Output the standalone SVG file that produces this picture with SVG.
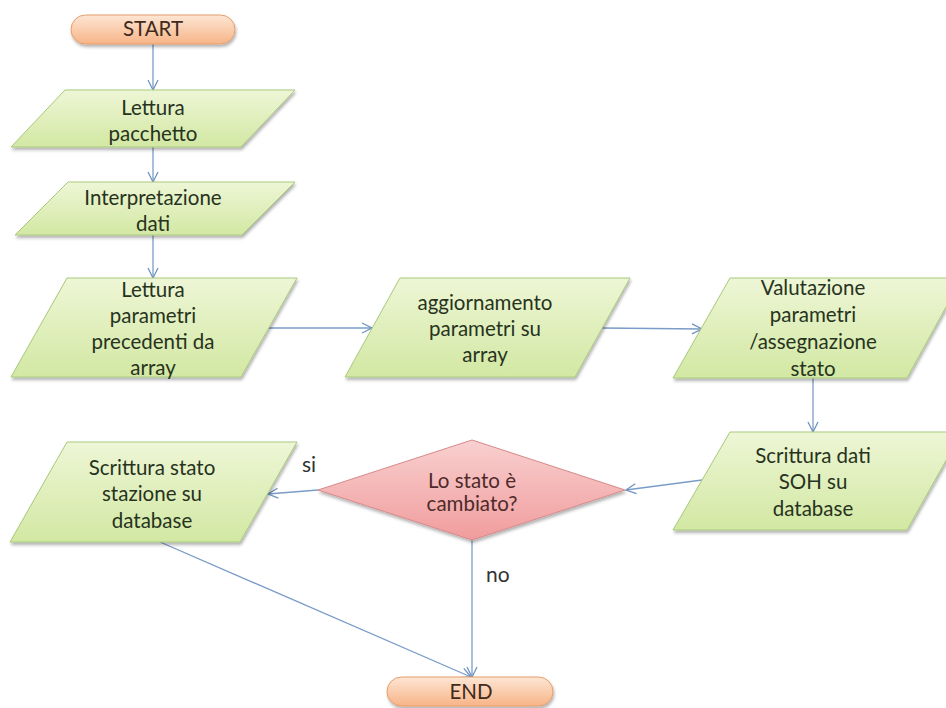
<svg xmlns="http://www.w3.org/2000/svg" width="946" height="708" viewBox="0 0 946 708">
<defs>
  <linearGradient id="gGreen" x1="0" y1="0" x2="0" y2="1">
    <stop offset="0" stop-color="#eef6d6"/>
    <stop offset="1" stop-color="#d2e8a3"/>
  </linearGradient>
  <linearGradient id="gOrange" x1="0" y1="0" x2="0" y2="1">
    <stop offset="0" stop-color="#fde6d4"/>
    <stop offset="1" stop-color="#f7b487"/>
  </linearGradient>
  <linearGradient id="gPink" x1="0" y1="0" x2="0" y2="1">
    <stop offset="0" stop-color="#f9d0d0"/>
    <stop offset="1" stop-color="#f09c9c"/>
  </linearGradient>
  <filter id="shadow" x="-10%" y="-10%" width="120%" height="130%">
    <feDropShadow dx="1" dy="2.5" stdDeviation="1.5" flood-color="#000" flood-opacity="0.3"/>
  </filter>
  <marker id="arrow" viewBox="0 0 12 12" refX="11" refY="6" markerWidth="12" markerHeight="12" markerUnits="userSpaceOnUse" orient="auto">
    <path d="M1,1 L11,6 L1,11" fill="none" stroke="#6f93c0" stroke-width="1.3"/>
  </marker>
  <style>
    .para { fill: url(#gGreen); stroke: #a9c97c; stroke-width: 1; filter: url(#shadow); }
    .pill { fill: url(#gOrange); stroke: #e59d6c; stroke-width: 1; filter: url(#shadow); }
    .dia { fill: url(#gPink); stroke: #d68a8a; stroke-width: 1; filter: url(#shadow); }
    .t { font-family: Lato, "Open Sans", "Liberation Sans", sans-serif; font-size: 20.5px; text-anchor: middle; fill: #27331d; }
    .tp { fill: #3f2a1c; }
    .td { fill: #4e2a2a; }
    .lbl { font-family: Lato, "Open Sans", "Liberation Sans", sans-serif; font-size: 21px; fill: #333333; }
    .c { fill: none; stroke: #7a9cc8; stroke-width: 1.3; marker-end: url(#arrow); }
  </style>
</defs>
<rect width="946" height="708" fill="#ffffff"/>

<g id="connectors">
  <line class="c" x1="153" y1="44" x2="153" y2="90"/>
  <line class="c" x1="153" y1="147" x2="153" y2="182"/>
  <line class="c" x1="153" y1="235" x2="153" y2="278"/>
  <line class="c" x1="268" y1="328" x2="372" y2="328"/>
  <line class="c" x1="602" y1="328" x2="702" y2="329"/>
  <line class="c" x1="813" y1="378" x2="813" y2="432"/>
  <line class="c" x1="702" y1="480" x2="626" y2="490"/>
  <line class="c" x1="318" y1="490" x2="268" y2="494"/>
  <line class="c" x1="160" y1="542" x2="471" y2="677"/>
  <line class="c" x1="472" y1="540" x2="472" y2="677"/>
</g>

<g id="start">
  <rect class="pill" x="71" y="15" width="164" height="29" rx="14.5"/>
  <text class="t tp" x="153" y="36">START</text>
</g>

<g id="lettura-pacchetto">
  <polygon class="para" points="65,90 295,90 241,147 11,147"/>
  <text class="t" x="153" y="115">Lettura</text>
  <text class="t" x="153" y="141">pacchetto</text>
</g>

<g id="interpretazione-dati">
  <polygon class="para" points="68,182 295,182 242,235 15,235"/>
  <text class="t" x="153" y="205">Interpretazione</text>
  <text class="t" x="153" y="231">dati</text>
</g>

<g id="lettura-parametri">
  <polygon class="para" points="67,278 297,278 241,377 11,377"/>
  <text class="t" x="153" y="297">Lettura</text>
  <text class="t" x="153" y="323">parametri</text>
  <text class="t" x="153" y="349">precedenti da</text>
  <text class="t" x="153" y="375">array</text>
</g>

<g id="aggiornamento">
  <polygon class="para" points="400,278 630,278 575,377 345,377"/>
  <text class="t" x="485" y="310">aggiornamento</text>
  <text class="t" x="485" y="336">parametri su</text>
  <text class="t" x="485" y="362">array</text>
</g>

<g id="valutazione">
  <polygon class="para" points="730,278 962,278 907,378 673,378"/>
  <text class="t" x="813" y="295">Valutazione</text>
  <text class="t" x="813" y="322">parametri</text>
  <text class="t" x="813" y="349">/assegnazione</text>
  <text class="t" x="813" y="376">stato</text>
</g>

<g id="scrittura-soh">
  <polygon class="para" points="730,432 962,432 907,530 673,530"/>
  <text class="t" x="813" y="463">Scrittura dati</text>
  <text class="t" x="813" y="489">SOH su</text>
  <text class="t" x="813" y="516">database</text>
</g>

<g id="decisione">
  <polygon class="dia" points="318,490 472,440 625,490 472,540"/>
  <text class="t td" x="472" y="488">Lo stato è</text>
  <text class="t td" x="472" y="511">cambiato?</text>
</g>

<g id="scrittura-stato">
  <polygon class="para" points="67,442 297,442 240,542 10,542"/>
  <text class="t" x="152" y="475">Scrittura stato</text>
  <text class="t" x="152" y="501">stazione su</text>
  <text class="t" x="152" y="528">database</text>
</g>

<g id="end">
  <rect class="pill" x="387" y="677" width="166" height="29" rx="14.5"/>
  <text class="t tp" x="471" y="699">END</text>
</g>

<g id="labels">
  <text class="lbl" x="302" y="472">si</text>
  <text class="lbl" x="486" y="582">no</text>
</g>
</svg>
